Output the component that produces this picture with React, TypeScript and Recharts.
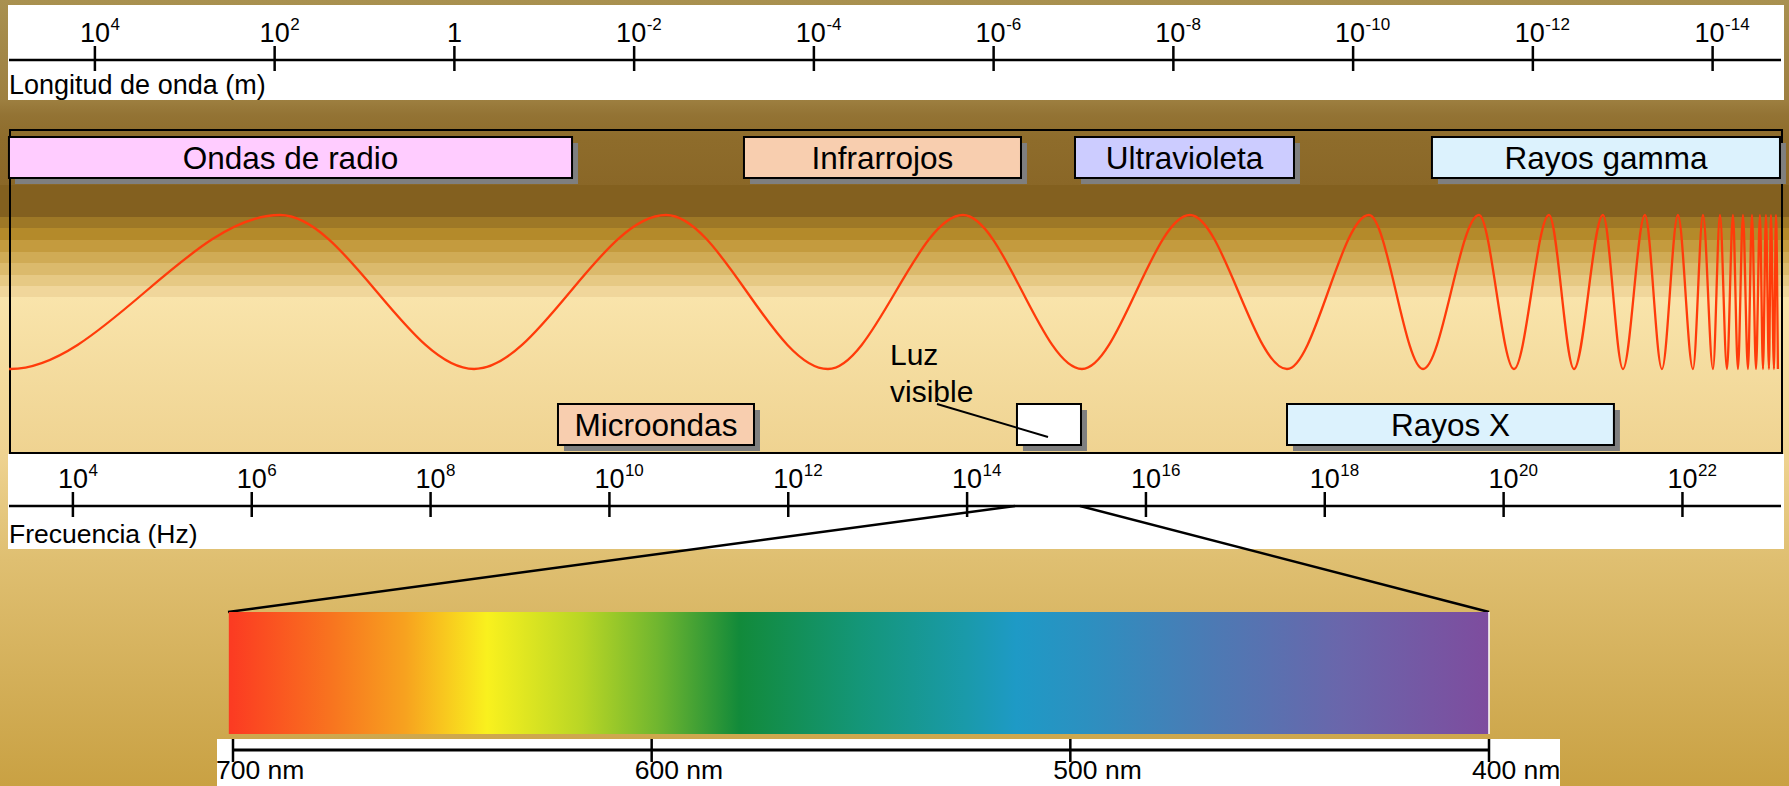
import React from 'react';
import { ComposedChart, LineChart, Line, XAxis, YAxis, ReferenceArea } from 'recharts';

const FONT = '"Liberation Sans", Arial, Helvetica, sans-serif';

// crests and troughs of the drawn wave, as log10 of the frequency (Hz)
const waveExp = [
  3.286, 3.297, 6.316, 8.486, 10.633, 12.444, 13.954, 15.285, 16.493, 17.578, 18.495,
  19.099, 19.725, 20.116, 20.508, 20.787, 21.111, 21.335, 21.581, 21.771, 21.95,
  22.118, 22.23, 22.342, 22.42, 22.498, 22.565, 22.621, 22.677, 22.733, 22.778,
  22.823, 22.867, 22.901, 22.934, 22.968, 22.99, 23.024, 23.046, 23.068,
];
const waveAmp = [
  -1, -1, 1, -1, 1, -1, 1, -1, 1, -1, 1,
  -1, 1, -1, 1, -1, 1, -1, 1, -1, 1,
  -1, 1, -1, 1, -1, 1, -1, 1, -1, 1,
  -1, 1, -1, 1, -1, 1, -1, 1, -1,
];

const freqTicks = [4, 6, 8, 10, 12, 14, 16, 18, 20, 22];
const lambdaTicks = [4, 2, 0, -2, -4, -6, -8, -10, -12, -14];
const nmTicks = [700, 600, 500, 400];

// bands of the spectrum (log10 Hz)
const bandNames = ['Ondas de radio', 'Infrarrojos', 'Ultravioleta', 'Rayos gamma', 'Microondas', '', 'Rayos X'];
const bandFrom = [3.285, 11.505, 15.207, 19.199, 9.425, 14.558, 17.578];
const bandTo = [9.582, 14.603, 17.656, 23.091, 11.617, 15.274, 21.234];
const bandRow = ['top', 'top', 'top', 'top', 'bottom', 'bottom', 'bottom'];
const bandFill = ['#ffccff', '#f8ceaf', '#ccccff', '#dcf2fd', '#f8ceaf', '#ffffff', '#dcf2fd'];

// visible range (nm) and its colour ramp
const visibleRange = [400, 701];
const spectrumStops = [0, 0.08, 0.14, 0.205, 0.28, 0.34, 0.405, 0.5, 0.585, 0.625, 0.68, 0.78, 0.883, 1];
const spectrumColors = [
  '#fc3a22', '#f8731f', '#f7a21f', '#f9f11e', '#b9d625', '#70b62f', '#128a3a',
  '#149678', '#1a9aaa', '#1e9ac6', '#2c90c0', '#4c7ab4', '#6a66ab', '#7e4c9e',
];

// axis domains fitted to the picture
const F_MAIN: [number, number] = [3.1848, 23.192];
const F_AXIS: [number, number] = [3.2854, 23.102];
const L_AXIS: [number, number] = [-14.761, 4.9558];
const AMP: [number, number] = [-6.4156, 3.7922];

const ROWS: Record<string, [number, number]> = { top: [137, 178], bottom: [404, 445] };

const BG = `linear-gradient(to bottom,
 #a99150 0px, #9d7f40 100px, #937334 115px, #8e6c2b 140px, #8a6727 185px,
 #83601f 185px, #83601f 217px,
 #9e7826 217px, #9e7826 228px,
 #b48a2a 228px, #b48a2a 240px,
 #c49b3e 240px, #c49b3e 252px,
 #d0ab55 252px, #d0ab55 263px,
 #dbba6c 263px, #dbba6c 275px,
 #e6c984 275px, #e6c984 286px,
 #f0d69b 286px, #f0d69b 297px,
 #f9e4ab 297px, #efd391 452px, #e4c67c 520px, #dfbf71 560px, #c9a143 786px)`;

const waveData = waveExp.map((e, i) => ({ e, a: waveAmp[i] }));

const bandShape = (label: string, fill: string) => (props: any) => {
  const { x, y, width, height } = props;
  return (
    <g>
      <rect x={x + 6} y={y + 6} width={width} height={height} fill="#7f7f7f" />
      <rect x={x} y={y} width={width} height={height} fill={fill} stroke="#000" strokeWidth={2} />
      {label && (
        <text x={x + width / 2} y={y + height / 2 + 11} textAnchor="middle" fontSize={31.5} fontFamily={FONT} fill="#000">
          {label}
        </text>
      )}
    </g>
  );
};

const spectrumShape = (props: any) => {
  const { x, y, width, height } = props;
  return (
    <g>
      <defs>
        <linearGradient id="spectrumGrad" x1="0" y1="0" x2="1" y2="0">
          {spectrumStops.map((o, i) => (
            <stop key={i} offset={o} stopColor={spectrumColors[i]} />
          ))}
        </linearGradient>
      </defs>
      <rect x={x} y={y} width={width} height={height} fill="url(#spectrumGrad)" />
      <line x1={x + width} x2={x + width} y1={y} y2={y + height} stroke="#fff" strokeWidth={1.5} />
    </g>
  );
};

const PowerTick = (props: any) => {
  const { x, y, payload } = props;
  const v = payload.value;
  const cx = x - (v < 0 ? 3 : 0);
  return (
    <g>
      <line x1={x} x2={x} y1={y - 14} y2={y + 11} stroke="#000" strokeWidth={2.5} />
      {v === 0 ? (
        <text x={x} y={y - 18.5} textAnchor="middle" fontSize={27} fontFamily={FONT} fill="#000">1</text>
      ) : (
        <>
          <text x={cx} y={y - 18.5} textAnchor="middle" fontSize={27} fontFamily={FONT} fill="#000">10</text>
          <text x={cx + 15.5} y={y - 30} fontSize={17} fontFamily={FONT} fill="#000">{String(v)}</text>
        </>
      )}
    </g>
  );
};

const NmTick = (props: any) => {
  const { x, y, payload } = props;
  return (
    <g>
      <line x1={x} x2={x} y1={y - 11} y2={y + 12} stroke="#000" strokeWidth={2.5} />
      <text x={x - 17} y={y + 29} fontSize={26.5} fontFamily={FONT} fill="#000">{`${payload.value} nm`}</text>
    </g>
  );
};

const abs = (left: number, top: number, extra: React.CSSProperties = {}): React.CSSProperties => ({
  position: 'absolute', left, top, ...extra,
});

export default function App() {
  return (
    <div style={abs(0, 0, { width: 1789, height: 786, overflow: 'hidden', background: BG, fontFamily: FONT })}>
      <div style={abs(8, 5, { width: 1776, height: 95, background: '#fff' })} />
      <div style={abs(8, 454, { width: 1776, height: 95, background: '#fff' })} />
      <div style={abs(217, 739, { width: 1343, height: 47, background: '#fff' })} />
      <div style={abs(9, 129, { width: 1774, height: 325, border: '2px solid #000', boxSizing: 'border-box' })} />

      <div style={abs(0, 0)}>
        <ComposedChart width={1789} height={786} data={waveData} margin={{ top: 0, right: 0, bottom: 0, left: 0 }}>
          <XAxis xAxisId="f" dataKey="e" type="number" domain={F_MAIN} allowDataOverflow hide />
          <YAxis yAxisId="amp" type="number" domain={AMP} allowDataOverflow hide />
          <YAxis yAxisId="row" type="number" domain={[0, 786]} reversed allowDataOverflow hide />
          {bandNames.map((name, i) => (
            <ReferenceArea
              key={i}
              xAxisId="f"
              yAxisId="row"
              x1={bandFrom[i]}
              x2={bandTo[i]}
              y1={ROWS[bandRow[i]][0]}
              y2={ROWS[bandRow[i]][1]}
              ifOverflow="visible"
              shape={bandShape(name, bandFill[i])}
            />
          ))}
          <Line
            xAxisId="f"
            yAxisId="amp"
            dataKey="a"
            type="monotone"
            stroke="#ff3b0a"
            strokeWidth={2.3}
            dot={false}
            activeDot={false}
            isAnimationActive={false}
          />
        </ComposedChart>
      </div>

      <svg style={abs(0, 0)} width={1789} height={786}>
        <g fontFamily={FONT} fill="#000">
          <text x={9} y={94} fontSize={27}>Longitud de onda (m)</text>
          <text x={9} y={543} fontSize={26.5}>Frecuencia (Hz)</text>
          <text x={890} y={365} fontSize={30}>Luz</text>
          <text x={890} y={402} fontSize={30}>visible</text>
        </g>
        <line x1={937} y1={404} x2={1048} y2={437} stroke="#000" strokeWidth={2} />
        <line x1={1015} y1={506} x2={228} y2={612} stroke="#000" strokeWidth={2.5} />
        <line x1={1080} y1={506} x2={1489} y2={612} stroke="#000" strokeWidth={2.5} />
      </svg>

      <div style={abs(9, 8)}>
        <LineChart width={1772} height={92} data={lambdaTicks.map((v) => ({ v }))} margin={{ top: 0, right: 0, bottom: 0, left: 0 }}>
          <XAxis
            dataKey="v"
            type="number"
            orientation="top"
            height={52}
            domain={L_AXIS}
            reversed
            allowDataOverflow
            ticks={lambdaTicks}
            interval={0}
            tickSize={0}
            tickMargin={0}
            tickLine={false}
            axisLine={{ stroke: '#000', strokeWidth: 2.5 }}
            tick={(p: any) => <PowerTick {...p} />}
          />
        </LineChart>
      </div>

      <div style={abs(9, 454)}>
        <LineChart width={1772} height={95} data={freqTicks.map((v) => ({ v }))} margin={{ top: 0, right: 0, bottom: 0, left: 0 }}>
          <XAxis
            dataKey="v"
            type="number"
            orientation="top"
            height={52}
            domain={F_AXIS}
            allowDataOverflow
            ticks={freqTicks}
            interval={0}
            tickSize={0}
            tickMargin={0}
            tickLine={false}
            axisLine={{ stroke: '#000', strokeWidth: 2.5 }}
            tick={(p: any) => <PowerTick {...p} />}
          />
        </LineChart>
      </div>

      <div style={abs(200, 600)}>
        <ComposedChart width={1370} height={186} data={nmTicks.map((v) => ({ v }))} margin={{ top: 0, right: 81, bottom: 0, left: 33 }}>
          <XAxis
            dataKey="v"
            type="number"
            orientation="bottom"
            height={36}
            domain={[400, 700]}
            reversed
            allowDataOverflow
            ticks={nmTicks}
            interval={0}
            tickSize={0}
            tickMargin={0}
            tickLine={false}
            axisLine={{ stroke: '#000', strokeWidth: 3 }}
            tick={(p: any) => <NmTick {...p} />}
          />
          <YAxis type="number" domain={[600, 750]} reversed allowDataOverflow hide />
          <ReferenceArea
            x1={visibleRange[0]}
            x2={visibleRange[1]}
            y1={612}
            y2={734}
            ifOverflow="visible"
            shape={spectrumShape}
          />
        </ComposedChart>
      </div>
    </div>
  );
}
